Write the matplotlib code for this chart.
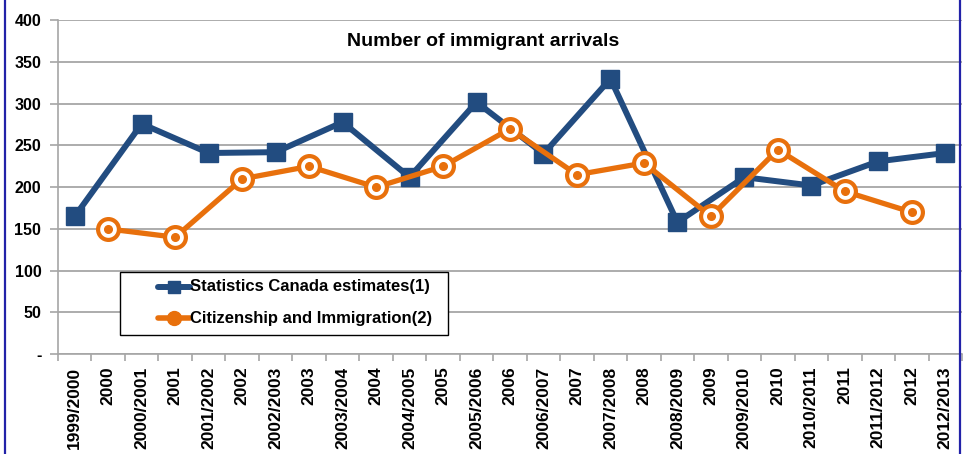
import matplotlib
matplotlib.use("Agg")
import matplotlib.pyplot as plt
from matplotlib.lines import Line2D
from matplotlib.patches import Rectangle
import numpy as np

categories = ["1999/2000", "2000", "2000/2001", "2001", "2001/2002", "2002",
              "2002/2003", "2003", "2003/2004", "2004", "2004/2005", "2005",
              "2005/2006", "2006", "2006/2007", "2007", "2007/2008", "2008",
              "2008/2009", "2009", "2009/2010", "2010", "2010/2011", "2011",
              "2011/2012", "2012", "2012/2013"]

statcan_labels = ["1999/2000", "2000/2001", "2001/2002", "2002/2003", "2003/2004",
                  "2004/2005", "2005/2006", "2006/2007", "2007/2008", "2008/2009",
                  "2009/2010", "2010/2011", "2011/2012", "2012/2013"]
statcan_values = [165, 276, 241, 242, 278, 212, 302, 240, 330, 158, 212, 202, 231, 241]

cic_labels = ["2000", "2001", "2002", "2003", "2004", "2005", "2006", "2007",
              "2008", "2009", "2010", "2011", "2012"]
cic_values = [150, 140, 210, 225, 200, 225, 270, 215, 229, 165, 245, 195, 170]

yticks = [0, 50, 100, 150, 200, 250, 300, 350, 400]
ytick_labels = ["-", "50", "100", "150", "200", "250", "300", "350", "400"]

title = "Number of immigrant arrivals"
legend_labels = ["Statistics Canada estimates(1)", "Citizenship and Immigration(2)"]

BLUE = "#224C80"
ORANGE = "#E8700C"
GRID = "#A6A6A6"

plt.rcParams['font.family'] = ['Liberation Sans', 'DejaVu Sans']

W, H = 963, 454
fig = plt.figure(figsize=(W / 100, H / 100), dpi=100)
ax = fig.add_axes([58 / W, 1 - 354 / H, 904 / W, (354 - 20.4) / H])

idx = {c: i for i, c in enumerate(categories)}
xs_s = [idx[c] for c in statcan_labels]
xs_c = [idx[c] for c in cic_labels]

ax.plot(xs_s, statcan_values, color=BLUE, lw=4.3, marker="s", ms=12.5,
        mfc=BLUE, mec=BLUE, zorder=3, solid_joinstyle="miter")
ax.plot(xs_c, cic_values, color=ORANGE, lw=3.8, marker="o", ms=15,
        mfc="white", mec=ORANGE, mew=3.0, zorder=4)
ax.plot(xs_c, cic_values, ls="none", marker="o", ms=5.5, mfc=ORANGE, mec=ORANGE, zorder=5)

ax.set_xlim(-0.5, len(categories) - 0.5)
ax.set_ylim(0, 400)
ax.set_yticks(yticks)
ax.set_yticklabels(ytick_labels, fontsize=11.5, fontweight="bold")
ax.set_xticks(range(len(categories)))
ax.set_xticklabels(categories, rotation=90, fontsize=12.5, fontweight="bold")
ax.set_xticks(np.arange(-0.5, len(categories), 1.0), minor=True)
ax.tick_params(axis="x", which="major", length=0, pad=9)
ax.tick_params(axis="x", which="minor", length=5, color=GRID, width=1.2)
ax.tick_params(axis="y", length=6, color=GRID, width=1.2, pad=6)

ax.grid(axis="y", color=GRID, lw=1.3)
ax.set_axisbelow(True)
for s in ["top", "right"]:
    ax.spines[s].set_visible(False)
for s in ["left", "bottom"]:
    ax.spines[s].set_color(GRID)
    ax.spines[s].set_linewidth(1.2)

fig.text(483 / W, 1 - 42 / H, title, ha="center", va="center",
         fontsize=14, fontweight="bold")

# legend box drawn manually (figure pixel coordinates)
def fx(px):
    return px / W

def fy(py):
    return 1 - py / H

fig.add_artist(Rectangle((fx(120), fy(335)), fx(448) - fx(120), fy(272) - fy(335),
                         transform=fig.transFigure, facecolor="white",
                         edgecolor="black", lw=1.0, zorder=10))
leg_styles = [dict(color=BLUE, lw=4.3, marker="s", ms=9),
              dict(color=ORANGE, lw=4.0, marker="o", ms=10)]
for i, (lab, st) in enumerate(zip(legend_labels, leg_styles)):
    yy = 287 + i * 31
    fig.add_artist(Line2D([fx(158), fx(190)], [fy(yy), fy(yy)],
                          transform=fig.transFigure, zorder=11,
                          color=st["color"], lw=st["lw"], solid_capstyle="round"))
    fig.add_artist(Line2D([fx(174)], [fy(yy)], transform=fig.transFigure, zorder=11,
                          ls="none", marker=st["marker"], ms=st["ms"],
                          mfc=st["color"], mec=st["color"]))
    fig.text(fx(190), fy(yy), lab, ha="left", va="center", fontsize=12,
             fontweight="bold", zorder=12)

# chart frame borders
fig.add_artist(Line2D([fx(5), fx(5)], [0, 1], color="#2222A8", lw=1.6))
fig.add_artist(Line2D([fx(960), fx(960)], [0, 1], color="#2222A8", lw=1.6))

fig.savefig("out.png", dpi=100)
